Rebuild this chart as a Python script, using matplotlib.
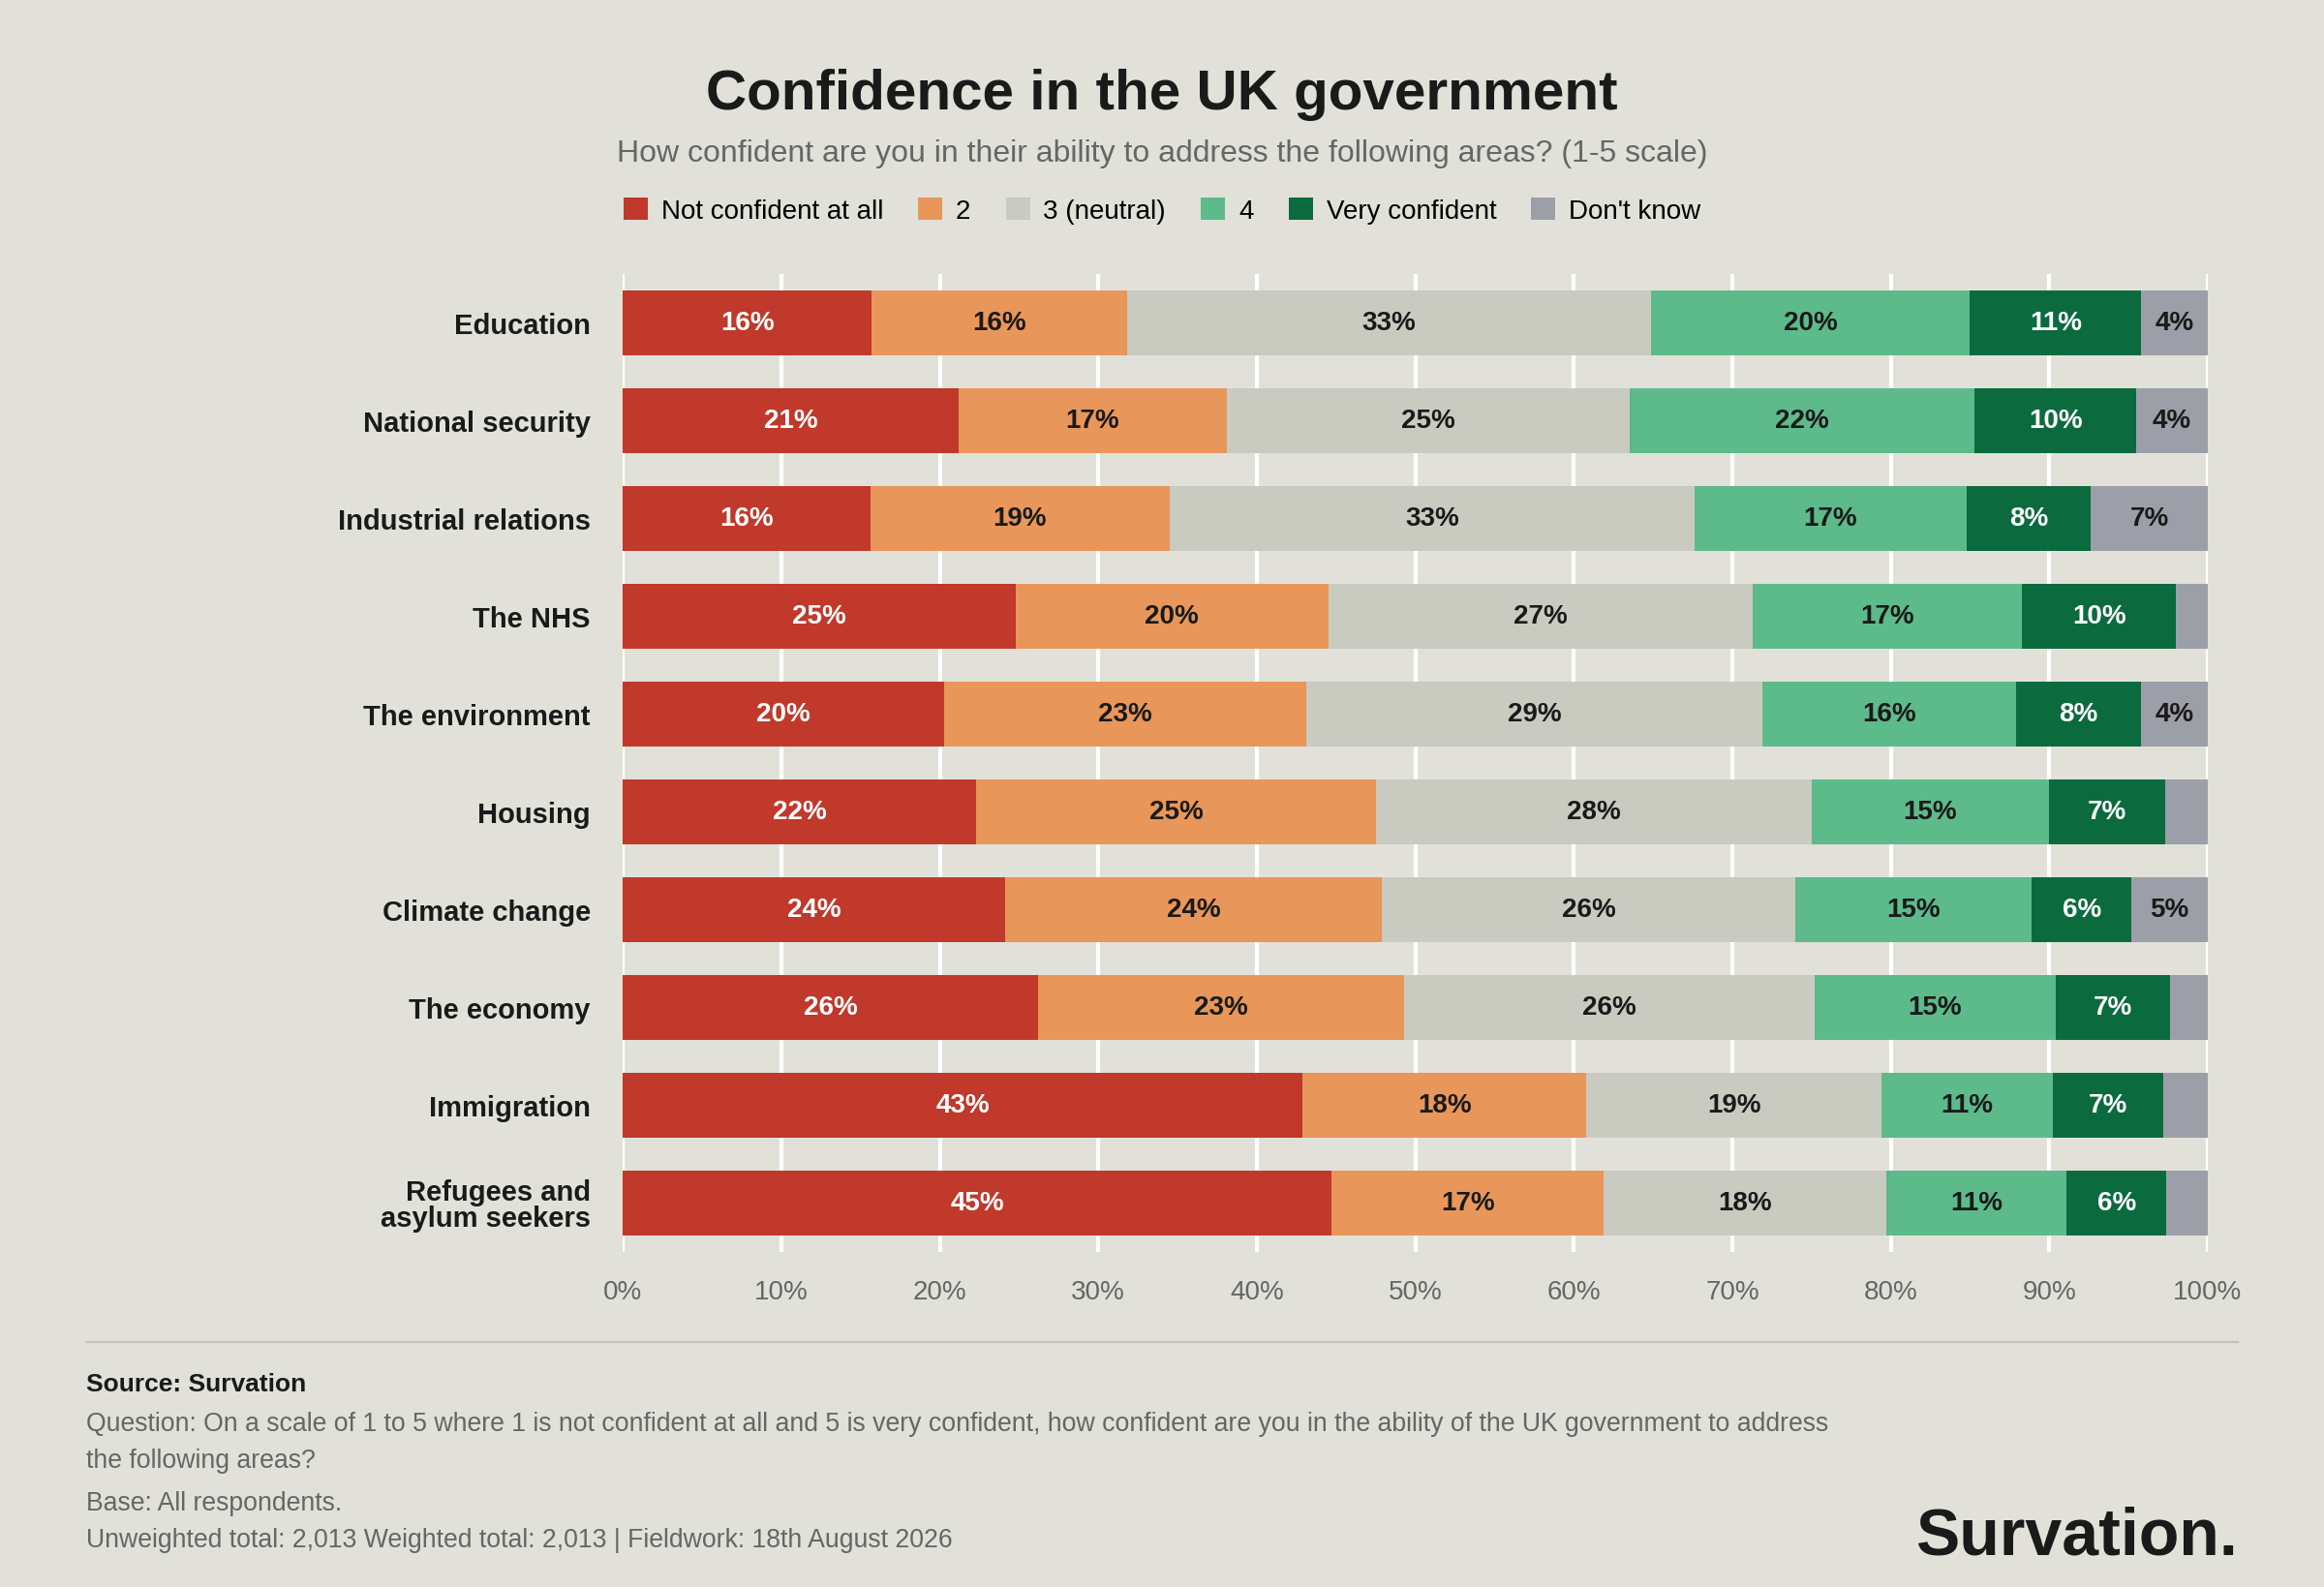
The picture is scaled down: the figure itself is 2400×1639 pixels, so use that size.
import matplotlib.pyplot as plt
import numpy as np

plt.rcParams['font.family'] = ['Liberation Sans', 'DejaVu Sans']

categories = ["Education", "National security", "Industrial relations", "The NHS",
              "The environment", "Housing", "Climate change", "The economy",
              "Immigration", "Refugees and\nasylum seekers"]
series_names = ["Not confident at all", "2", "3 (neutral)", "4", "Very confident", "Don't know"]
not_confident = [15.7, 21.2, 15.6, 24.8, 20.3, 22.3, 24.1, 26.2, 42.9, 44.7]
two = [16.1, 16.9, 18.9, 19.7, 22.8, 25.2, 23.8, 23.1, 17.9, 17.2]
neutral = [33.1, 25.4, 33.1, 26.8, 28.8, 27.5, 26.1, 25.9, 18.6, 17.8]
four = [20.1, 21.8, 17.2, 17.0, 16.0, 15.0, 14.9, 15.2, 10.8, 11.4]
very = [10.8, 10.2, 7.8, 9.7, 7.9, 7.3, 6.3, 7.2, 7.0, 6.3]
dont_know = [4.2, 4.5, 7.4, 2.0, 4.2, 2.7, 4.8, 2.4, 2.8, 2.6]

colors = ["#c0392b", "#e8965a", "#c9cac0", "#5dba8b", "#0b6b3f", "#9c9fa7"]
text_colors = ["white", "#1a1a1a", "#1a1a1a", "#1a1a1a", "white", "#1a1a1a"]
bg = "#e1e1d9"

fig = plt.figure(figsize=(12, 8.2), dpi=200, facecolor=bg)
ax = fig.add_axes([0.268, 0.211, 0.682, 0.616], facecolor=bg)

y = np.arange(len(categories))
left = np.zeros(len(categories))
for name, vals, c, tc in zip(series_names, [not_confident, two, neutral, four, very, dont_know], colors, text_colors):
    vals = np.array(vals)
    ax.barh(y, vals, left=left, height=0.66, color=c, label=name, zorder=3)
    for yi, l, v in zip(y, left, vals):
        if v >= 3.5:
            ax.text(l + v / 2, yi, f"{round(v):.0f}%", ha="center", va="center",
                    color=tc, fontsize=10, fontweight="bold", zorder=4)
    left += vals

ax.set_xlim(0, 100)
ax.set_ylim(len(categories) - 0.5, -0.5)
ax.set_yticks(y)
ax.set_yticklabels(categories, fontsize=10.5, fontweight="bold", color="#1a1a1a", linespacing=0.95)
ax.set_xticks(range(0, 101, 10))
ax.set_xticklabels([f"{t}%" for t in range(0, 101, 10)], fontsize=10, color="#666666")
ax.tick_params(length=0, pad=10)
ax.tick_params(axis="y", pad=12)
ax.grid(axis="x", color="white", linewidth=1.5, zorder=0)
for s in ax.spines.values():
    s.set_visible(False)

fig.text(0.5, 0.94, "Confidence in the UK government", ha="center", va="center",
         fontsize=21, fontweight="bold", color="#1a1a1a")
fig.text(0.5, 0.903, "How confident are you in their ability to address the following areas? (1-5 scale)",
         ha="center", va="center", fontsize=11.5, color="#666666")
fig.legend(loc="center", bbox_to_anchor=(0.5, 0.867), ncol=6, frameon=False, fontsize=10,
           handlelength=0.9, handleheight=0.9, handletextpad=0.5, columnspacing=1.3)

fig.add_artist(plt.Line2D([0.037, 0.963], [0.154, 0.154], color="#c4c4bc", linewidth=0.8))
fig.text(0.037, 0.128, "Source: Survation", fontsize=9.5, fontweight="bold", color="#1a1a1a", va="center")
foot = ["Question: On a scale of 1 to 5 where 1 is not confident at all and 5 is very confident, how confident are you in the ability of the UK government to address",
        "the following areas?",
        "Base: All respondents.",
        "Unweighted total: 2,013 Weighted total: 2,013 | Fieldwork: 18th August 2026"]
for i, line in enumerate(foot):
    fig.text(0.037, 0.103 - i * 0.023 - (0.004 if i >= 2 else 0), line, fontsize=9.6, color="#666666", va="center")
fig.text(0.963, 0.021, "Survation.", ha="right", va="baseline", fontsize=24.5,
         fontweight="bold", color="#1a1a1a")

fig.savefig("out.png", dpi=200, facecolor=bg)
